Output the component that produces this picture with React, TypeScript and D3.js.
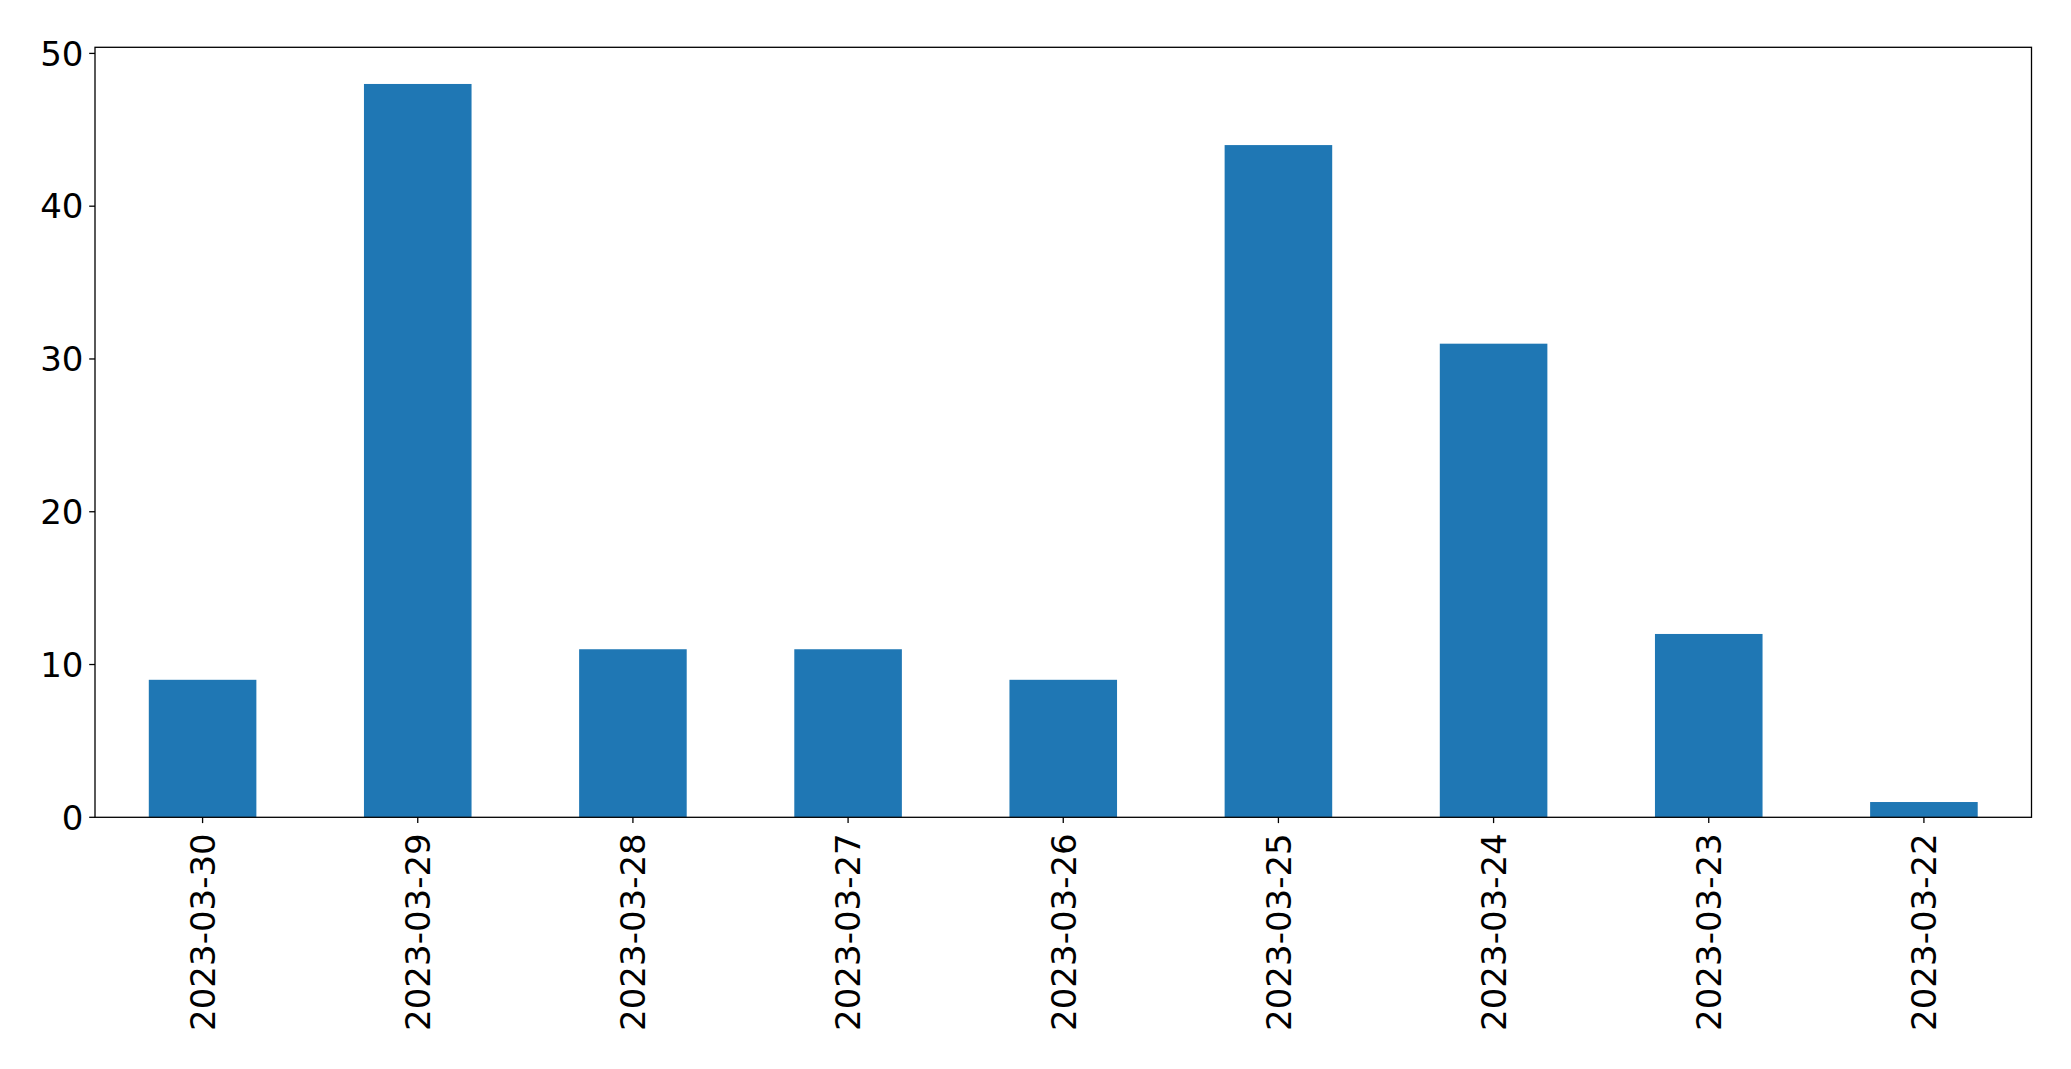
import React from "react";
import * as d3 from "d3";

const categories = ["2023-03-30","2023-03-29","2023-03-28","2023-03-27","2023-03-26","2023-03-25","2023-03-24","2023-03-23","2023-03-22"];
const values = [9, 48, 11, 11, 9, 44, 31, 12, 1];
const yTicks = [0, 10, 20, 30, 40, 50];

const W = 2071, H = 1069;
const L = 95, R = 2031.5, T = 47.3, B = 817.3;
const FONT = "DejaVu Sans";
const FS = 34;

export default function App() {
  const n = categories.length;
  const x = d3.scaleLinear().domain([-0.5, n - 0.5]).range([L, R]);
  const yMax = d3.max(values)! * 1.05;
  const y = d3.scaleLinear().domain([0, yMax]).range([B, T]);
  const bw = x(0.25) - x(-0.25);
  return (
    <svg width={W} height={H} style={{ position: "fixed", left: 0, top: 0, background: "#fff" }} fontFamily={FONT}>
      <rect x={0} y={0} width={W} height={H} fill="#fff" />
      {values.map((v, i) => (
        <rect key={i} x={x(i) - bw / 2} y={y(v)} width={bw} height={y(0) - y(v)} fill="#1f77b4" />
      ))}
      <rect x={L} y={T} width={R - L} height={B - T} fill="none" stroke="#000" strokeWidth={1.3} />
      {yTicks.map((t) => (
        <g key={t}>
          <line x1={L - 5.8} x2={L} y1={y(t)} y2={y(t)} stroke="#000" strokeWidth={1.3} />
          <text x={L - 11.5} y={y(t)} dy="0.36em" textAnchor="end" fontSize={FS} fill="#000">{t}</text>
        </g>
      ))}
      {categories.map((c, i) => (
        <g key={c}>
          <line x1={x(i)} x2={x(i)} y1={B} y2={B + 5.8} stroke="#000" strokeWidth={1.3} />
          <text transform={`translate(${x(i)},${B + 16}) rotate(-90)`} dy="0.36em" textAnchor="end" fontSize={FS} fill="#000">{c}</text>
        </g>
      ))}
    </svg>
  );
}
